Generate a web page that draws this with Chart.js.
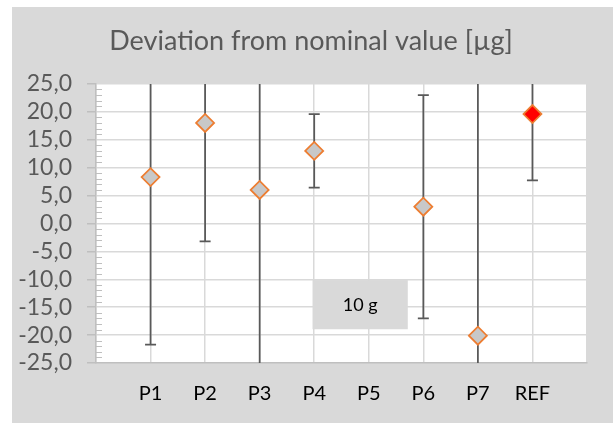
<!DOCTYPE html>
<html>
<head>
  <title>Deviation from nominal value</title>
  <script src="https://cdn.jsdelivr.net/npm/chart.js"></script>
  <style>
    html, body { margin: 0; padding: 0; background: #fff; }
    #wrap { width: 613px; height: 423px; }
  </style>
</head>
<body>
  <div id="wrap"><canvas id="devChart" width="613" height="423"></canvas></div>

  <script>
    // data
    const categories = ['P1', 'P2', 'P3', 'P4', 'P5', 'P6', 'P7', 'REF'];
    const deviations = [8.3, 18.0, 6.0, 13.0, null, 3.0, -20.1, 19.6];
    const errors = [30.0, 21.2, 35.0, 6.6, null, 20.0, 48.0, 11.9];
    const yTicks = [-25, -20, -15, -10, -5, 0, 5, 10, 15, 20, 25];
    const boxLabel = '10 g';

    const points = categories.map((c, i) => ({ x: i + 1, y: deviations[i] }));
    const fills = categories.map(c => c === 'REF' ? '#ff0000' : '#c8c8c8');

    const bgPlugin = {
      id: 'bg',
      beforeDraw(chart) {
        const { ctx, chartArea: a } = chart;
        ctx.save();
        ctx.fillStyle = '#ffffff';
        ctx.fillRect(0, 0, chart.width, chart.height);
        ctx.fillStyle = '#d9d9d9';
        ctx.fillRect(12, 7, chart.width - 12, chart.height - 7);
        ctx.fillStyle = '#ffffff';
        ctx.fillRect(a.left, a.top, a.right - a.left, a.bottom - a.top);
        ctx.restore();
      }
    };

    // error bars under the markers, minor ticks on the value axis
    const errPlugin = {
      id: 'errbars',
      beforeDatasetsDraw(chart) {
        const { ctx, chartArea: a, scales: { x, y } } = chart;
        ctx.save();
        // minor ticks
        ctx.strokeStyle = '#bfbfbf';
        ctx.lineWidth = 1;
        for (let v = y.min; v <= y.max; v++) {
          if (v % 5 === 0) continue;
          const py = Math.round(y.getPixelForValue(v)) + 0.5;
          ctx.beginPath();
          ctx.moveTo(a.left, py);
          ctx.lineTo(a.left + 6, py);
          ctx.stroke();
        }
        ctx.beginPath();
        ctx.rect(a.left, a.top, a.right - a.left, a.bottom - a.top);
        ctx.clip();
        ctx.strokeStyle = '#595959';
        ctx.lineWidth = 1.75;
        deviations.forEach((d, i) => {
          if (d === null) return;
          const px = x.getPixelForValue(i + 1);
          const top = y.getPixelForValue(d + errors[i]);
          const bot = y.getPixelForValue(d - errors[i]);
          ctx.beginPath();
          ctx.moveTo(px, top);
          ctx.lineTo(px, bot);
          [top, bot].forEach(p => {
            ctx.moveTo(px - 5.5, p);
            ctx.lineTo(px + 5.5, p);
          });
          ctx.stroke();
        });
        ctx.restore();
      },
      afterDatasetsDraw(chart) {
        const { ctx, chartArea: a } = chart;
        const w = a.right - a.left, h = a.bottom - a.top;
        const bx = a.left + w * 0.441, by = a.top + h * 0.703;
        const bw = w * 0.194, bh = h * 0.176;
        ctx.save();
        ctx.fillStyle = '#d9d9d9';
        ctx.fillRect(bx, by, bw, bh);
        ctx.fillStyle = '#000000';
        ctx.font = '18px Lato';
        ctx.textAlign = 'center';
        ctx.textBaseline = 'middle';
        ctx.fillText(boxLabel, bx + bw / 2, by + bh / 2 + 1);
        ctx.restore();
      }
    };

    new Chart(document.getElementById('devChart'), {
      type: 'scatter',
      data: {
        datasets: [{
          data: points,
          pointStyle: 'rectRot',
          pointRadius: 9,
          pointHoverRadius: 9,
          pointBackgroundColor: fills,
          pointBorderColor: '#ed7d31',
          pointBorderWidth: 1.75
        }]
      },
      plugins: [bgPlugin, errPlugin],
      options: {
        responsive: false,
        animation: false,
        events: [],
        layout: { padding: { left: 9, right: 0, top: 0, bottom: 0 } },
        plugins: {
          legend: { display: false },
          tooltip: { enabled: false },
          title: {
            display: true,
            text: 'Deviation from nominal value [µg]',
            color: '#595959',
            font: { family: 'Lato', size: 27, weight: 'normal' },
            padding: { top: 25.5, bottom: 26 }
          }
        },
        scales: {
          x: {
            type: 'linear',
            min: 0,
            max: categories.length + 1,
            afterBuildTicks: s => { s.ticks = categories.map((c, i) => ({ value: i + 1 })).concat([{ value: 0 }, { value: categories.length + 1 }]); },
            afterFit: s => { s.height = 60; },
            ticks: {
              autoSkip: false,
              maxRotation: 0,
              padding: 19,
              color: '#000000',
              font: { family: 'Lato', size: 20 },
              callback: v => categories[v - 1] || ''
            },
            grid: { color: '#d9d9d9', lineWidth: 1.5, drawTicks: false },
            border: { color: '#bfbfbf', width: 1.5 }
          },
          y: {
            min: yTicks[0],
            max: yTicks[yTicks.length - 1],
            afterBuildTicks: s => { s.ticks = yTicks.map(v => ({ value: v })); },
            afterFit: s => { s.width = 87; },
            ticks: {
              autoSkip: false,
              padding: 15,
              color: '#595959',
              font: { family: 'Lato', size: 23, lineHeight: 1 },
              callback: v => v.toFixed(1).replace('.', ',')
            },
            grid: { color: '#d9d9d9', lineWidth: 1.5, tickLength: 9, tickColor: '#bfbfbf' },
            border: { color: '#bfbfbf', width: 1.5 }
          },
          // empty strip on the right of the plot
          yRight: {
            position: 'right',
            afterFit: s => { s.width = 26; },
            ticks: { display: false },
            grid: { display: false, drawTicks: false },
            border: { display: false }
          }
        }
      }
    });
  </script>
</body>
</html>
